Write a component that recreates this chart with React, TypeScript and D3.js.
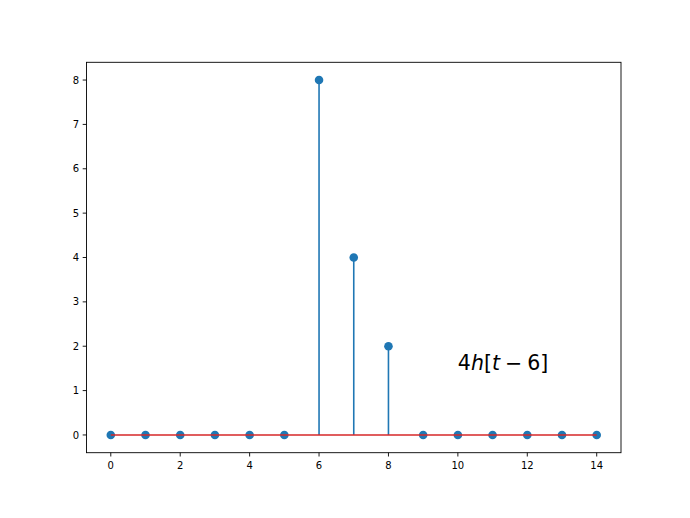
import React from "react";
import * as d3 from "d3";

const tValues = [0, 1, 2, 3, 4, 5, 6, 7, 8, 9, 10, 11, 12, 13, 14];
const yValues = [0, 0, 0, 0, 0, 0, 8, 4, 2, 0, 0, 0, 0, 0, 0];
const xTicks = [0, 2, 4, 6, 8, 10, 12, 14];
const yTicks = [0, 1, 2, 3, 4, 5, 6, 7, 8];

const W = 690;
const H = 518;
const left = 86.5;
const right = 621;
const top = 62.3;
const bottom = 452.7;
const blue = "#1f77b4";
const red = "#d62728";

export default function App() {
  const x = d3.scaleLinear().domain([-0.7, 14.7]).range([left, right]);
  const y = d3.scaleLinear().domain([-0.4, 8.4]).range([bottom, top]);
  const font = "DejaVu Sans, sans-serif";
  return (
    <svg width={W} height={H} style={{ position: "absolute", left: 0, top: 0, background: "#fff" }}>
      <rect x={0} y={0} width={W} height={H} fill="#fff" />
      {tValues.map((t, i) => (
        <line key={"s" + i} x1={x(t)} x2={x(t)} y1={y(0)} y2={y(yValues[i])} stroke={blue} strokeWidth={1.6} />
      ))}
      {tValues.map((t, i) => (
        <circle key={"m" + i} cx={x(t)} cy={y(yValues[i])} r={4.3} fill={blue} />
      ))}
      <line x1={x(tValues[0])} x2={x(tValues[tValues.length - 1])} y1={y(0)} y2={y(0)} stroke={red} strokeWidth={1.6} />
      <rect x={left} y={top} width={right - left} height={bottom - top} fill="none" stroke="#000" strokeWidth={0.9} />
      {xTicks.map((t) => (
        <g key={"xt" + t}>
          <line x1={x(t)} x2={x(t)} y1={bottom} y2={bottom + 3.8} stroke="#000" strokeWidth={0.9} />
          <text x={x(t)} y={bottom + 16} fontSize={10} fontFamily={font} textAnchor="middle" fill="#000">{t}</text>
        </g>
      ))}
      {yTicks.map((t) => (
        <g key={"yt" + t}>
          <line x1={left - 3.8} x2={left} y1={y(t)} y2={y(t)} stroke="#000" strokeWidth={0.9} />
          <text x={left - 7.5} y={y(t) + 3.6} fontSize={10} fontFamily={font} textAnchor="end" fill="#000">{t}</text>
        </g>
      ))}
      <text x={x(10)} y={y(1.5) + 1.5} fontSize={20.5} fontFamily={font} fill="#000">
        <tspan>4</tspan>
        <tspan fontStyle="italic">h</tspan>
        <tspan>[</tspan>
        <tspan fontStyle="italic">t</tspan>
        <tspan dx={5}>−</tspan>
        <tspan dx={5}>6]</tspan>
      </text>
    </svg>
  );
}
